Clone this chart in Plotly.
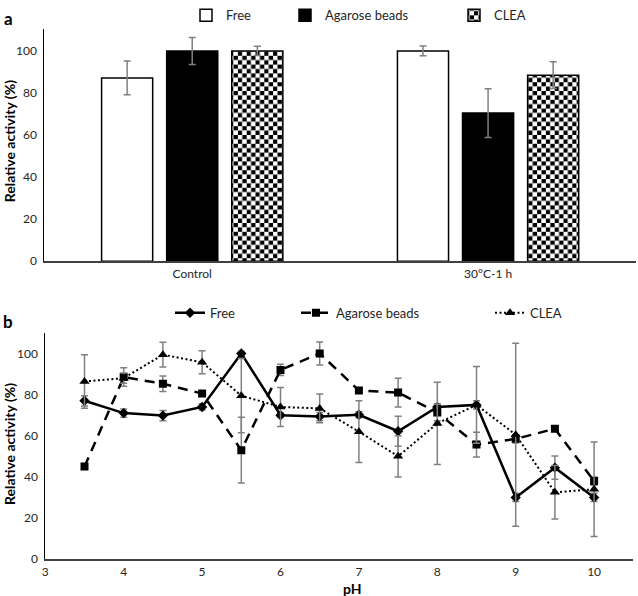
import plotly.graph_objects as go

# panel a: stability after incubation
conditions = ["Control", "30°C-1 h"]
free_a = [87, 99.8]
free_a_err = [8, 2.3]
agarose_a = [99.8, 70.3]
agarose_a_err = [6.4, 11.6]
clea_a = [99.8, 88.3]
clea_a_err = [2.2, 6.3]

# panel b: pH profile
ph = [3.5, 4, 4.5, 5, 5.5, 6, 6.5, 7, 7.5, 8, 8.5, 9, 9.5, 10]
free_b = [77, 71, 69.8, 74, 100, 70, 69.3, 70.2, 62.2, 74, 75, 30, 44.5, 30]
free_b_err = [2.5, 2, 2.5, 1.5, 1, 1, 2, 1.5, 7.3, 1.5, 2, 2, 5.6, 2]
agarose_b = [45, 88.5, 85.3, 80.5, 53, 92, 100, 82, 81, 71.3, 55.7, 58.5, 63.4, 38]
agarose_b_err = [1, 4.5, 3.8, 1, 16, 2.7, 5.6, 1, 7, 4, 6, 2, 1, 2]
clea_b = [86.4, 88, 99.4, 95.7, 79.5, 74, 73.3, 62, 50, 66, 75, 60.5, 32.5, 34]
clea_b_err = [13, 2.5, 6, 5.6, 18, 9.5, 7, 15, 10, 20, 18.6, 44.5, 13, 23]

FONT = "Lato"
W, H = 638, 596
ERR = dict(type="data", color="#808080", thickness=1.5, width=3.5)


def px_x(p):
    return p / W


def px_y(p):
    return 1 - p / H


fig = go.Figure()

fig.add_trace(go.Bar(
    x=conditions, y=free_a, name="Free", legend="legend",
    marker=dict(color="white", line=dict(color="black", width=1.5)),
    error_y=dict(array=free_a_err, **ERR),
))
fig.add_trace(go.Bar(
    x=conditions, y=agarose_a, name="Agarose beads", legend="legend2",
    marker=dict(color="black", line=dict(color="black", width=1.5)),
    error_y=dict(array=agarose_a_err, **ERR),
))
fig.add_trace(go.Bar(
    x=conditions, y=clea_a, name="CLEA", legend="legend3",
    marker=dict(color="white", line=dict(color="black", width=1.5),
                pattern=dict(shape="+", fgcolor="black", bgcolor="white",
                             size=8, solidity=0.5)),
    error_y=dict(array=clea_a_err, **ERR),
))

fig.add_trace(go.Scatter(
    x=ph, y=free_b, name="Free", legend="legend4", xaxis="x2", yaxis="y2",
    mode="lines+markers",
    line=dict(color="black", width=2.5),
    marker=dict(symbol="diamond", size=8, color="black"),
    error_y=dict(array=free_b_err, **ERR),
))
fig.add_trace(go.Scatter(
    x=ph, y=agarose_b, name="Agarose beads", legend="legend5", xaxis="x2", yaxis="y2",
    mode="lines+markers",
    line=dict(color="black", width=2.5, dash="10px,7px"),
    marker=dict(symbol="square", size=8, color="black"),
    error_y=dict(array=agarose_b_err, **ERR),
))
fig.add_trace(go.Scatter(
    x=ph, y=clea_b, name="CLEA", legend="legend6", xaxis="x2", yaxis="y2",
    mode="lines+markers",
    line=dict(color="black", width=2, dash="2px,2.5px"),
    marker=dict(symbol="triangle-up", size=9, color="black"),
    error_y=dict(array=clea_b_err, **ERR),
))

tick_font = dict(family=FONT, size=12, color="#262626")
xline = dict(showline=True, linecolor="#404040", linewidth=2, ticks="",
             showgrid=False, zeroline=False, tickfont=tick_font)
yline = dict(showline=True, linecolor="black", linewidth=1, ticks="",
             showgrid=False, zeroline=False, tickfont=tick_font,
             range=[0, 110], dtick=20, tick0=0, ticklabelstandoff=4)


def legend_at(x, y):
    return dict(x=px_x(x), y=px_y(y), xanchor="left", yanchor="middle",
                orientation="h", bgcolor="rgba(0,0,0,0)",
                font=dict(family=FONT, size=13, color="#262626"))


fig.update_layout(
    width=W, height=H,
    margin=dict(l=0, r=0, t=0, b=0),
    template="none",
    paper_bgcolor="white", plot_bgcolor="white",
    font=dict(family=FONT, size=12, color="#262626"),
    barmode="group", bargap=0.34, bargroupgap=0.215,
    xaxis=dict(domain=[px_x(44.3), px_x(636)], anchor="y", **xline),
    yaxis=dict(domain=[px_y(256.7), px_y(21.7)], anchor="x", **yline),
    xaxis2=dict(domain=[px_x(45.3), px_x(633.3)], anchor="y2",
                range=[3, 10.5], dtick=1, tick0=3, **xline),
    yaxis2=dict(domain=[px_y(558.7), px_y(329.3)], anchor="x2", **yline),
    legend=legend_at(186, 7.5),
    legend2=legend_at(285, 7.5),
    legend3=legend_at(454, 7.5),
    legend4=legend_at(170, 309),
    legend5=legend_at(296, 309),
    legend6=legend_at(490, 309),
    showlegend=True,
)

labels = [
    ("<b>a</b>", 8, 11, 0, 17),
    ("<b>b</b>", 8, 318, 0, 17),
    ("<b>Relative activity (%)</b>", 9, 135, -90, 14),
    ("<b>Relative activity (%)</b>", 9, 442, -90, 14),
    ("<b>pH</b>", 353, 588, 0, 14),
]
for text, x, y, angle, size in labels:
    fig.add_annotation(
        text=text, x=px_x(x), y=px_y(y), xref="paper", yref="paper",
        xanchor="center", yanchor="middle", showarrow=False, textangle=angle,
        font=dict(family=FONT, size=size, color="black"),
    )

# drop the page margin and swap plotly's "+" pattern for a true checkerboard
CHECKER_JS = """
document.body.style.margin = '0';
var gd = document.getElementById('{plot_id}');
function applyChecker() {
  var ns = 'http://www.w3.org/2000/svg';
  var defs = gd.querySelector('svg.main-svg defs');
  if (!defs) return;
  if (!document.getElementById('checker')) {
    var s = 4.4;
    var p = document.createElementNS(ns, 'pattern');
    p.setAttribute('id', 'checker');
    p.setAttribute('patternUnits', 'userSpaceOnUse');
    p.setAttribute('width', 2 * s);
    p.setAttribute('height', 2 * s);
    var cells = [[0, 0, 'white'], [s, 0, 'black'], [0, s, 'black'], [s, s, 'white']];
    cells.forEach(function (c) {
      var r = document.createElementNS(ns, 'rect');
      r.setAttribute('x', c[0]); r.setAttribute('y', c[1]);
      r.setAttribute('width', s); r.setAttribute('height', s);
      r.setAttribute('fill', c[2]);
      p.appendChild(r);
    });
    defs.appendChild(p);
  }
  gd.querySelectorAll('path').forEach(function (el) {
    var f = el.style.fill || '';
    if (f.indexOf('url(') === 0 && f.indexOf('checker') < 0) {
      el.style.fill = 'url(#checker)';
    }
  });
}
applyChecker();
gd.on('plotly_afterplot', applyChecker);
"""

fig.write_html("out.html", post_script=CHECKER_JS,
               config={"displayModeBar": False})
